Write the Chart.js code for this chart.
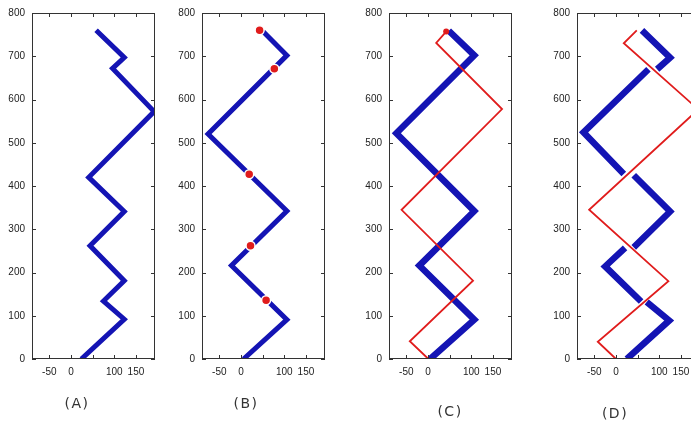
<!DOCTYPE html>
<html>
<head>
<meta charset="utf-8">
<script src="https://cdn.jsdelivr.net/npm/chart.js@4.4.1/dist/chart.umd.min.js"></script>
<style>
  html, body { margin: 0; padding: 0; background: #fff; overflow: hidden; }
  body { width: 691px; height: 424px; position: relative; }
  canvas { position: absolute; top: 0; }
</style>
</head>
<body>
<canvas id="chartA" width="165" height="424" style="left:0px"></canvas>
<canvas id="chartB" width="165" height="424" style="left:170px"></canvas>
<canvas id="chartC" width="165" height="424" style="left:357px"></canvas>
<canvas id="chartD" width="165" height="424" style="left:545px"></canvas>
<script>
// axis ticks
const xTicks = [-50, 0, 50, 100, 150]
const xTickLabels = ['-50', '0', '', '100', '150']
const yTicks = [0, 100, 200, 300, 400, 500, 600, 700, 800]
const panelLabels = ['(A)', '(B)', '(C)', '(D)']

// paths, [x, y]; null = break in the line
const pathA = [[24, 0], [123, 92], [75, 134], [123, 181], [44, 262], [123, 341], [41, 420], [192, 572], [96, 672], [123, 697], [58, 760]]
const pathB = [[6, 0], [106, 91], [-22, 216], [106, 342], [-76, 520], [106, 702], [51, 757]]
const dotsB = [[43, 760], [77, 671], [19, 427], [22, 262], [58, 136]]
const pathCBlue = [[5, 0], [107, 91], [-20, 216], [107, 342], [-73, 522], [107, 702], [48, 759]]
const pathCRed = [[1, 0], [-42, 41], [104, 181], [-61, 345], [171, 578], [19, 731], [42, 757]]
const pathDBlue = [[25, 0], [123, 89], [71, 132], null, [58, 133], [-25, 214], [21, 257], null,
  [41, 258], [125, 341], [41, 425], null, [18, 428], [-75, 524], [75, 670], null,
  [95, 670], [125, 697], [60, 760]]
const pathDRed = [[0, 0], [-42, 40], [121, 180], [-62, 345], [190, 577], [18, 730], [48, 760]]

const BLUE = '#1414b4'
const RED = '#e01c1c'
const tickFont = { size: 10, family: '"Liberation Sans", Arial, sans-serif' }

const toXY = arr => arr.map(p => p ? { x: p[0], y: p[1] } : { x: null, y: null })

function line(arr, color, width) {
  return {
    data: toXY(arr),
    showLine: true,
    borderColor: color,
    borderWidth: width,
    pointRadius: 0,
    borderJoinStyle: 'miter',
    borderCapStyle: 'butt',
    spanGaps: false
  }
}

// box + inward tick marks + panel letter
const framePlugin = {
  id: 'frame',
  afterDraw(chart, args, opts) {
    const { ctx, chartArea: a, scales: { x, y } } = chart
    ctx.save()
    ctx.strokeStyle = '#333'
    ctx.lineWidth = 1
    ctx.strokeRect(a.left + 0.5, a.top + 0.5, a.width - 1, a.height - 1)
    ctx.beginPath()
    xTicks.forEach(v => {
      const px = Math.round(x.getPixelForValue(v)) + 0.5
      ctx.moveTo(px, a.bottom); ctx.lineTo(px, a.bottom - 4)
      ctx.moveTo(px, a.top); ctx.lineTo(px, a.top + 4)
    })
    yTicks.forEach(v => {
      const py = Math.round(y.getPixelForValue(v)) + 0.5
      ctx.moveTo(a.left, py); ctx.lineTo(a.left + 4, py)
      ctx.moveTo(a.right, py); ctx.lineTo(a.right - 4, py)
    })
    ctx.stroke()
    ctx.font = '14px "DejaVu Sans", sans-serif'
    ctx.fillStyle = '#333'
    ctx.textAlign = 'center'
    ctx.textBaseline = 'middle'
    try { ctx.letterSpacing = '1.5px' } catch (e) {}
    ctx.fillText(opts.text, a.left + opts.dx, opts.y)
    ctx.restore()
  }
}

function makeChart(id, datasets, label, dx, ly) {
  return new Chart(document.getElementById(id), {
    type: 'scatter',
    data: { datasets },
    options: {
      responsive: false,
      animation: false,
      events: [],
      layout: { padding: { top: 9, right: 10, left: 0, bottom: 0 } },
      scales: {
        x: {
          type: 'linear',
          min: -90,
          max: 194,
          afterBuildTicks: s => { s.ticks = xTicks.map(v => ({ value: v })) },
          afterFit: s => { s.height = 65 },
          grid: { display: false, drawTicks: false },
          border: { display: false },
          ticks: {
            autoSkip: false,
            maxRotation: 0,
            padding: 7,
            font: tickFont,
            color: '#222',
            callback: (v, i) => xTickLabels[i]
          }
        },
        y: {
          type: 'linear',
          min: 0,
          max: 800,
          afterBuildTicks: s => { s.ticks = yTicks.map(v => ({ value: v })) },
          afterFit: s => { s.width = 32 },
          grid: { display: false, drawTicks: false },
          border: { display: false },
          ticks: { padding: 7, font: tickFont, color: '#222' }
        }
      },
      plugins: {
        legend: { display: false },
        tooltip: { enabled: false },
        frame: { text: label, dx: dx, y: ly }
      }
    },
    plugins: [framePlugin]
  })
}

makeChart('chartA', [line(pathA, BLUE, 5)], panelLabels[0], 45, 404)

makeChart('chartB', [
  {
    data: toXY(dotsB),
    showLine: false,
    pointRadius: 4.5,
    pointBackgroundColor: RED,
    pointBorderColor: '#fff',
    pointBorderWidth: 1.5
  },
  line(pathB, BLUE, 5)
], panelLabels[1], 44, 404)

const cRed = line(pathCRed, RED, 1.8)
cRed.pointRadius = pathCRed.map((p, i) => i === pathCRed.length - 1 ? 3 : 0)
cRed.pointBackgroundColor = RED
cRed.pointBorderWidth = 0
makeChart('chartC', [cRed, line(pathCBlue, BLUE, 6.5)], panelLabels[2], 61, 412)

makeChart('chartD', [line(pathDRed, RED, 1.8), line(pathDBlue, BLUE, 6.5)], panelLabels[3], 38, 414)
</script>
</body>
</html>
